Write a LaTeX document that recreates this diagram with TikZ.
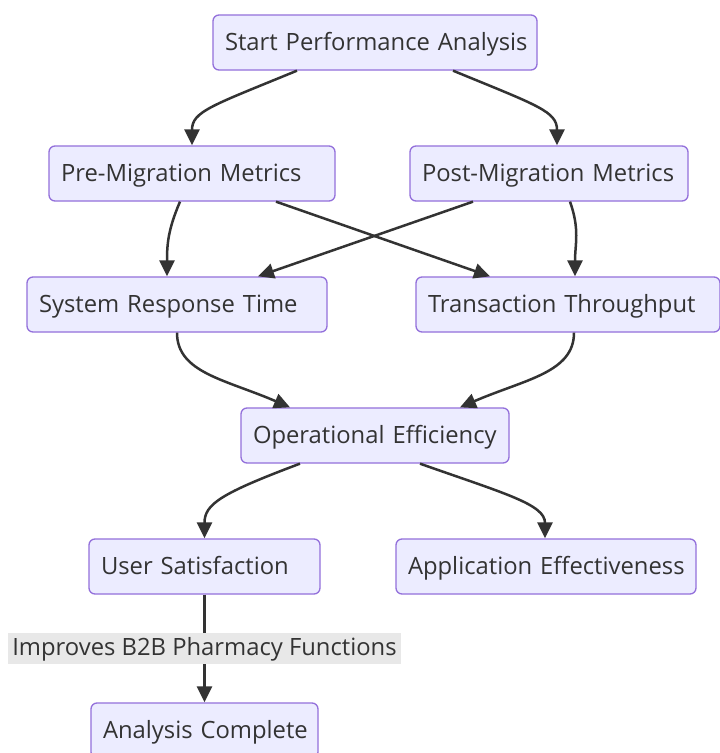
\documentclass[tikz,border=0pt]{standalone}
\usepackage{fontspec}
\setmainfont{Open Sans}
\usetikzlibrary{arrows.meta}
\definecolor{boxfill}{HTML}{ECECFF}
\definecolor{boxline}{HTML}{9370DB}
\definecolor{txt}{HTML}{333333}
\definecolor{lblbg}{HTML}{E8E8E8}
\tikzset{
  box/.style={draw=boxline, fill=boxfill, line width=1.3pt, rounded corners=6pt,
    minimum height=55pt, inner xsep=12pt, inner ysep=0pt, align=left,
    text height=20pt, text depth=4pt,
    text=txt, font=\fontsize{23.8}{28}\selectfont, anchor=center},
  conn/.style={draw=txt, line width=2.5pt, -{Triangle[length=16pt,width=15pt]}},
  lbl/.style={fill=lblbg, text=txt, font=\fontsize{23.8}{28}\selectfont,
    inner xsep=4pt, inner ysep=3pt, text height=19pt, text depth=6pt}
}
\begin{document}
\begin{tikzpicture}[x=1pt,y=-1pt]
\useasboundingbox (0,0) rectangle (720,753);
\fill[white] (0,0) rectangle (720,753);
\node[box, text width=300pt] (start) at (375,42.5) {\mbox{Start Performance Analysis}};
\node[box, text width=262pt] (pre) at (192,173.5) {\mbox{Pre-Migration Metrics}};
\node[box, text width=254pt] (post) at (549,173.5) {\mbox{Post-Migration Metrics}};
\node[box, text width=276pt] (srt) at (177,304.5) {\mbox{System Response Time}};
\node[box, text width=280pt] (tt) at (568,304.5) {\mbox{Transaction Throughput}};
\node[box, text width=244pt] (oe) at (375,435.5) {\mbox{Operational Efficiency}};
\node[box, text width=207pt] (us) at (204.5,566.5) {\mbox{User Satisfaction}};
\node[box, text width=276pt] (ae) at (546,566.5) {\mbox{Application Effectiveness}};
\node[box, text width=203pt] (ac) at (204.5,730.5) {\mbox{Analysis Complete}};

\draw[conn] ([xshift=-78pt]start.south) .. controls +(-85,35) and +(0,-34) .. (pre.north);
\draw[conn] ([xshift=78pt]start.south) .. controls +(85,35) and +(0,-34) .. ([xshift=8pt]post.north);
\draw[conn] ([xshift=-12pt]pre.south) .. controls +(-12,28) and +(0,-32) .. ([xshift=-10pt]srt.north);
\draw[conn] ([xshift=84pt]pre.south) -- ([xshift=-78pt]tt.north);
\draw[conn] ([xshift=-76pt]post.south) -- ([xshift=81pt]srt.north);
\draw[conn] ([xshift=21pt]post.south) .. controls +(10,28) and +(0,-32) .. ([xshift=7pt]tt.north);
\draw[conn] (srt.south) .. controls +(0,40) and +(-65,-28) .. ([xshift=-85pt]oe.north);
\draw[conn] ([xshift=6pt]tt.south) .. controls +(0,40) and +(65,-28) .. ([xshift=85pt]oe.north);
\draw[conn] ([xshift=-75pt]oe.south) .. controls +(-80,30) and +(0,-34) .. (us.north);
\draw[conn] ([xshift=45pt]oe.south) .. controls +(85,30) and +(0,-34) .. ([xshift=-1pt]ae.north);
\draw[conn] (us.south) -- node[lbl] (lab) {Improves B2B Pharmacy Functions} (ac.north);
\end{tikzpicture}
\end{document}
